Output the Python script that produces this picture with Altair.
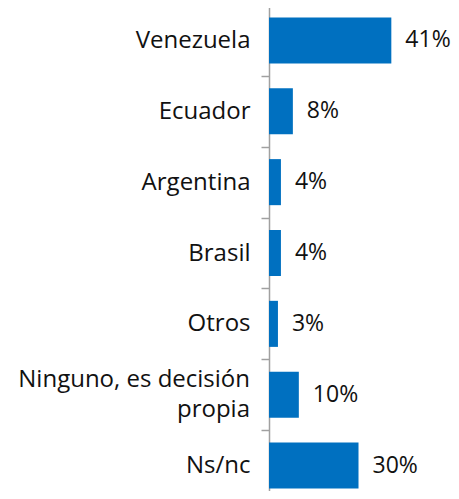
import altair as alt
import pandas as pd

categories = ["Venezuela", "Ecuador", "Argentina", "Brasil", "Otros",
              "Ninguno, es decisión propia", "Ns/nc"]
values = [41, 8, 4, 4, 3, 10, 30]
labels = [f"{v}%" for v in values]
wrapped_cat = "Ninguno, es decisión propia"
wrapped_lines = ["Ninguno, es decisión", "propia"]

df = pd.DataFrame({"cat": categories, "val": values, "lab": labels})
df_l1 = pd.DataFrame({"cat": [wrapped_cat], "t": [wrapped_lines[0]]})
df_l2 = pd.DataFrame({"cat": [wrapped_cat], "t": [wrapped_lines[1]]})

FONT = "Open Sans"
LABEL_SIZE = 24
W, H = 182, 483

y_enc = alt.Y(
    "cat:N",
    sort=categories,
    title=None,
    scale=alt.Scale(range=[-3, 493], paddingInner=0, paddingOuter=0),
    axis=alt.Axis(
        labelExpr=f"datum.label == '{wrapped_cat}' ? '' : datum.label",
        labelFont=FONT,
        labelFontSize=LABEL_SIZE,
        labelColor="#111111",
        labelPadding=11,
        labelLimit=400,
        tickBand="extent",
        tickSize=8,
        tickColor="#A0A0A0",
        tickWidth=1.5,
        domainColor="#A0A0A0",
        domainWidth=1.5,
        grid=False,
    ),
)

x_enc = alt.X("val:Q", axis=None, scale=alt.Scale(domain=[0, 61], nice=False))

bars = alt.Chart(df).mark_bar(color="#0070C0", height=alt.RelativeBandSize(0.65)).encode(
    x=x_enc, y=y_enc
)

text = alt.Chart(df).mark_text(
    align="left", baseline="middle", dx=14, font=FONT, fontSize=23, color="#111111"
).encode(x=x_enc, y=y_enc, text="lab:N")

def wrapped(d, dy):
    return alt.Chart(d).mark_text(
        align="right", baseline="middle", dy=dy, font=FONT,
        fontSize=LABEL_SIZE, color="#111111",
    ).encode(x=alt.value(-19), y=alt.Y("cat:N", sort=categories), text="t:N")

chart = (
    alt.layer(bars, text, wrapped(df_l1, -15), wrapped(df_l2, 15))
    .properties(
        width=W,
        height=H,
        padding={"left": 261, "top": 0, "right": 0, "bottom": 0},
        autosize=alt.AutoSizeParams(type="none"),
    )
    .configure_view(stroke=None)
)

chart.save("out.html", embed_options={"renderer": "svg", "actions": False})
